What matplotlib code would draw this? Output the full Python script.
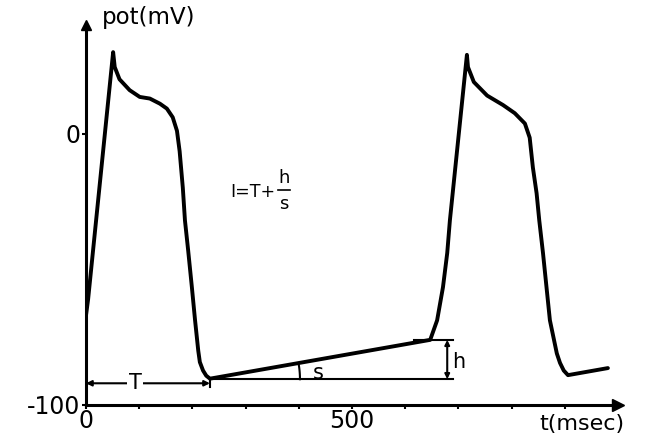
import numpy as np
import matplotlib.pyplot as plt

# action potential trace (t in msec, V in mV)
t_ms = [0, 4, 51, 54, 63, 82, 101, 120, 139, 152, 163, 171, 176, 182, 186,
        192, 199, 205, 211, 214, 220, 226, 233,
        647, 660, 671, 679, 684,
        716, 718, 729, 754, 784, 806, 825, 834, 840, 847, 852,
        859, 872, 885, 891, 898, 906, 981]
v_mv = [-67, -61, 30, 24.5, 20, 16, 13.5, 12.9, 11, 9.2, 6, 1, -6.5, -20, -32,
        -43, -56.6, -68.8, -80, -84.2, -87.3, -89.2, -90.3,
        -76, -68.8, -56.6, -44, -32,
        29, 24.5, 19, 14, 10.5, 7.5, 3.7, -1.5, -12.5, -22, -32,
        -44, -68.8, -81, -84.5, -87.3, -89, -86.4]

x_ticks = [0, 100, 200, 300, 400, 500, 600, 700, 800, 900]
x_labels = ["0", "", "", "", "", "500", "", "", "", ""]
y_ticks = [-100, 0]
y_labels = ["-100", "0"]

# construction values for the slope / interval annotation
t_min, v_min = 233, -90.5
t_thr, v_thr = 647, -76
t_h = 679
t_base_end = 690

# pixel scale of the axes (px per msec, px per mV), used for the angle arc
px_t, px_v = 532 / 1000, 380 / 140

fig = plt.figure(figsize=(6.6, 4.4), dpi=100)
ax = fig.add_axes([86 / 660, 35 / 440, 532 / 660, 380 / 440])
ax.set_xlim(0, 1000)
ax.set_ylim(-100, 40)

ax.plot(t_ms, v_mv, color="black", lw=2.8, solid_joinstyle="round",
        solid_capstyle="round")

# axes as arrows
for side in ["top", "right"]:
    ax.spines[side].set_visible(False)
for side in ["left", "bottom"]:
    ax.spines[side].set_linewidth(2.2)
ax.plot([1000], [-100], marker=">", color="black", ms=9, clip_on=False)
ax.plot([0], [40], marker="^", color="black", ms=7, clip_on=False)

ax.set_xticks(x_ticks)
ax.set_xticklabels(x_labels, fontsize=17)
ax.set_yticks(y_ticks)
ax.set_yticklabels(y_labels, fontsize=17)
ax.tick_params(axis="x", length=3, width=1.5, pad=0)
ax.tick_params(axis="y", length=3, width=1.5, pad=1)

ax.text(852, -107, "t(msec)", fontsize=16, ha="left", va="center",
        clip_on=False)
ax.text(0.03, 1.02, "pot(mV)", transform=ax.transAxes, fontsize=16.5,
        ha="left", va="center")

# T interval
ax.annotate("", xy=(0, -92), xytext=(t_min, -92),
            arrowprops=dict(arrowstyle="<|-|>", color="black", lw=1.5,
                            mutation_scale=8, shrinkA=0, shrinkB=0))
ax.plot([t_min, t_min], [-90, -93.5], color="black", lw=1.5)
ax.text(92, -92, "T", fontsize=15, ha="center", va="center",
        bbox=dict(facecolor="white", edgecolor="none", pad=1))

# baseline and slope angle s
ax.plot([t_min, t_base_end], [v_min, v_min], color="black", lw=1.5)
slope_deg = np.degrees(np.arctan2((v_thr - v_min) * px_v, (t_thr - t_min) * px_t))
ang = np.radians(np.linspace(0, slope_deg, 20))
r_px = 90
ax.plot(t_min + r_px * np.cos(ang) / px_t, v_min + r_px * np.sin(ang) / px_v,
        color="black", lw=1.5)
ax.text(436, -88.3, "s", fontsize=15, ha="center", va="center")

# height h
ax.plot([t_thr - 30, t_base_end], [v_thr, v_thr], color="black", lw=1.5)
ax.annotate("", xy=(t_h, v_thr), xytext=(t_h, v_min),
            arrowprops=dict(arrowstyle="<|-|>", color="black", lw=1.5,
                            mutation_scale=7, shrinkA=0, shrinkB=0))
ax.text(t_h + 10, -84, "h", fontsize=15, ha="left", va="center")

# formula I = T + h/s
ax.text(272, -21.5, "I=T+", fontsize=12.5, ha="left", va="center")
ax.text(372, -16.3, "h", fontsize=13, ha="center", va="center")
ax.plot([360, 384], [-20.8, -20.8], color="black", lw=1.2)
ax.text(372, -25.8, "s", fontsize=13, ha="center", va="center")

fig.savefig("out.png", dpi=100)
